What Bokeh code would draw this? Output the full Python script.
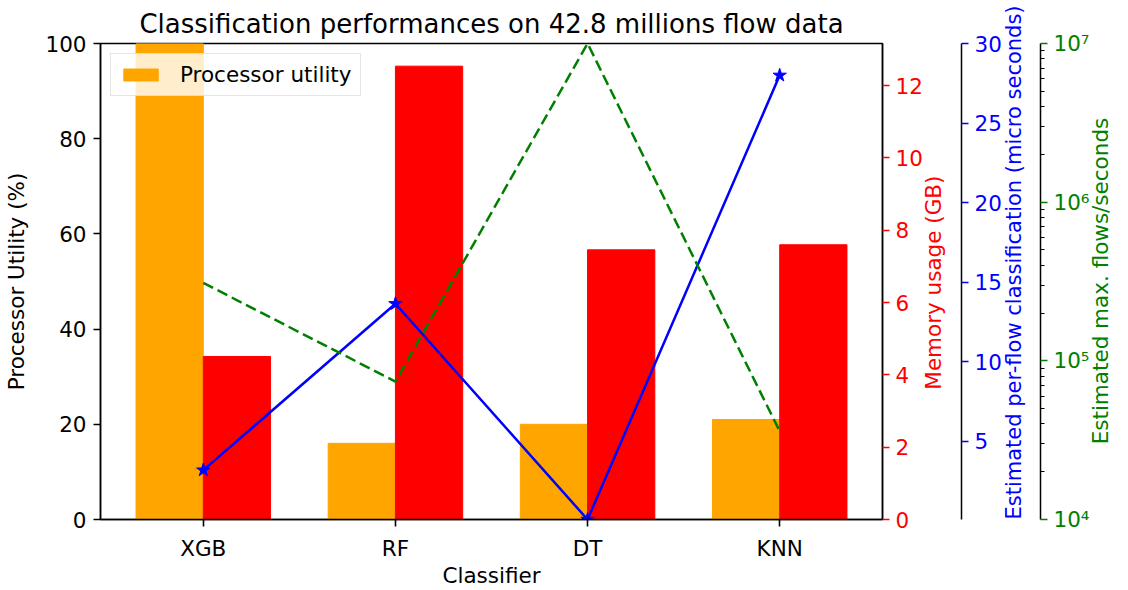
import math
import numpy as np
from bokeh.plotting import figure
from bokeh.models import (Range1d, LinearAxis, LogAxis, LogScale, FixedTicker,
                          Legend, LegendItem, CustomJSTickFormatter)
from bokeh.embed import file_html
from bokeh.resources import INLINE

# ---- data ----
classifiers = ["XGB", "RF", "DT", "KNN"]
processor_utility = [100, 16, 20, 21]            # %
memory_usage = [4.51, 12.54, 7.46, 7.60]          # GB
per_flow_time = [3.2, 13.65, 0.1, 28.0]           # micro seconds
max_flows = [3.1e5, 7.4e4, 1.0e7, 3.6e4]          # flows/second

util_ticks = [0, 20, 40, 60, 80, 100]
mem_ticks = [0, 2, 4, 6, 8, 10, 12]
time_ticks = [5, 10, 15, 20, 25, 30]
flow_ticks = [1e4, 1e5, 1e6, 1e7]
flow_minor = [m * 10 ** e for e in (4, 5, 6) for m in range(2, 10)]

FONT = "DejaVu Sans"
FS = "21.5px"
NB = "\u00a0"
x = np.arange(len(classifiers))
bw = 0.35

p = figure(width=1128, height=590, output_backend="svg", toolbar_location=None,
           x_range=Range1d(-0.535, len(classifiers) - 1 + 0.535),
           y_range=Range1d(0, 100),
           min_border_left=100, min_border_right=245,
           min_border_top=43, min_border_bottom=71)
p.extra_y_ranges = {"mem": Range1d(0, max(memory_usage) * 1.05),
                    "time": Range1d(0.1, 30),
                    "flow": Range1d(1e4, 1e7)}
p.extra_y_scales = {"flow": LogScale()}

p.xgrid.visible = False
p.ygrid.visible = False
p.outline_line_color = "black"
p.outline_line_width = 1.5
p.outline_line_alpha = 1.0

p.title.text = "Classification performances on 42.8 millions flow data"
p.title.align = "center"
p.title.text_font = FONT
p.title.text_font_size = "26px"
p.title.text_font_style = "normal"
p.title.text_color = "black"
p.title.standoff = 10

# bars
r_util = p.vbar(x=x - bw / 2, top=processor_utility, width=bw, color="orange")
r_mem = p.vbar(x=x + bw / 2, top=memory_usage, width=bw, color="red",
               y_range_name="mem")
# lines
p.line(x, per_flow_time, y_range_name="time", color="blue", line_width=2.5)
p.scatter(x, per_flow_time, y_range_name="time", marker="star", size=14,
          color="blue")
p.line(x, max_flows, y_range_name="flow", color="green", line_width=2.5,
       line_dash="11 5")


def style_axis(ax, color, label_color, tick=7, standoff=7):
    ax.axis_label_text_font = FONT
    ax.axis_label_text_font_size = FS
    ax.axis_label_text_font_style = "normal"
    ax.axis_label_text_color = label_color
    ax.major_label_text_font = FONT
    ax.major_label_text_font_size = FS
    ax.major_label_text_color = color
    ax.major_tick_line_color = color
    ax.major_tick_line_width = 1.6
    ax.major_tick_in = 0
    ax.major_tick_out = tick
    ax.major_label_standoff = standoff
    ax.axis_line_color = "black"
    ax.axis_line_width = 1.5
    ax.minor_tick_line_color = None


def bottom_to_top(ax, pad):
    # right-hand label read from bottom to top, as in the reference
    ax.axis_label_orientation = math.pi / 2
    try:
        ax.axis_label_align = "start"
        ax.axis_label = NB * pad + ax.axis_label
    except AttributeError:
        pass


# x axis
xa = p.xaxis[0]
xa.ticker = FixedTicker(ticks=list(x))
xa.major_label_overrides = {int(i): c for i, c in zip(x, classifiers)}
xa.axis_label = "Classifier"
style_axis(xa, "black", "black", tick=7, standoff=9)
xa.axis_label_standoff = -1

# left y axis
ya = p.yaxis[0]
ya.ticker = FixedTicker(ticks=util_ticks)
ya.axis_label = "Processor Utility (%)"
style_axis(ya, "black", "black")
ya.axis_label_standoff = 13

# memory axis
mem_ax = LinearAxis(y_range_name="mem", axis_label="Memory usage (GB)",
                    ticker=FixedTicker(ticks=mem_ticks))
style_axis(mem_ax, "red", "red", tick=7, standoff=6)
mem_ax.axis_label_standoff = 8
bottom_to_top(mem_ax, 19)
p.add_layout(mem_ax, "right")

# time axis
time_ax = LinearAxis(y_range_name="time",
                     axis_label="Estimated per-flow classification (micro seconds)",
                     ticker=FixedTicker(ticks=time_ticks))
style_axis(time_ax, "blue", "blue", tick=7, standoff=6)
time_ax.axis_label_text_font_size = "21px"
time_ax.axis_label_standoff = 9
bottom_to_top(time_ax, 0)
p.add_layout(time_ax, "right")

# flow axis (log)
flow_ax = LogAxis(y_range_name="flow", axis_label="Estimated max. flows/seconds",
                  ticker=FixedTicker(ticks=flow_ticks, minor_ticks=flow_minor))
style_axis(flow_ax, "green", "green", tick=7, standoff=6)
flow_ax.minor_tick_line_color = "black"
flow_ax.minor_tick_line_width = 1.2
flow_ax.minor_tick_in = 0
flow_ax.minor_tick_out = 4
flow_ax.axis_label_standoff = 8
bottom_to_top(flow_ax, 11)
flow_ax.formatter = CustomJSTickFormatter(code="""
const sup = {'0':'\u2070','1':'\u00b9','2':'\u00b2','3':'\u00b3','4':'\u2074',
             '5':'\u2075','6':'\u2076','7':'\u2077','8':'\u2078','9':'\u2079','-':'\u207b'};
const e = Math.round(Math.log10(tick)).toString();
return '10' + e.split('').map(c => sup[c]).join('');
""")
p.add_layout(flow_ax, "right")

legend = Legend(items=[LegendItem(label="Processor utility", renderers=[r_util])],
                location="top_left")
legend.label_text_font = FONT
legend.label_text_font_size = FS
legend.label_text_color = "black"
legend.glyph_width = 43
legend.glyph_height = 15
legend.label_standoff = 18
legend.padding = 8
legend.margin = 10
legend.border_line_color = "#cccccc"
legend.border_line_width = 1.2
legend.background_fill_alpha = 0.8
p.add_layout(legend, "center")

open("out.html", "w").write(file_html(p, INLINE))
